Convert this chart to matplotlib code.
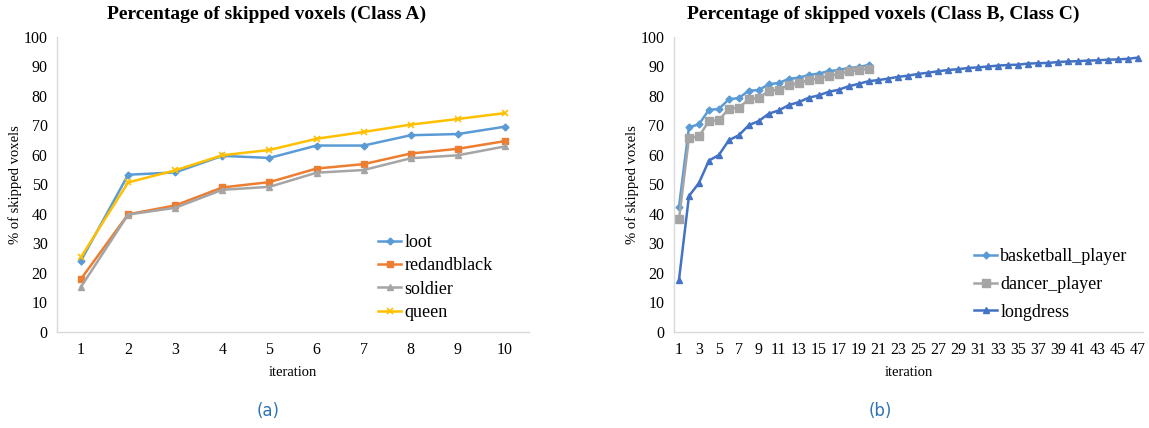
import numpy as np
import matplotlib.pyplot as plt

plt.rcParams['font.family'] = ['Liberation Serif', 'DejaVu Serif']

# Class A
iters_a = np.arange(1, 11)
loot = [24.2, 53.3, 54.1, 59.7, 59.0, 63.2, 63.2, 66.7, 67.1, 69.6]
redandblack = [18.0, 39.9, 42.9, 49.0, 50.8, 55.4, 56.9, 60.5, 62.1, 64.7]
soldier = [15.3, 39.8, 42.1, 48.2, 49.2, 54.0, 54.9, 58.9, 59.9, 62.9]
queen = [25.4, 50.7, 54.8, 59.9, 61.7, 65.5, 67.8, 70.3, 72.2, 74.2]

# Class B, Class C
iters_b = np.arange(1, 21)
iters_c = np.arange(1, 48)
basketball_player = [42.5, 69.4, 70.4, 75.3, 75.6, 78.9, 79.3, 81.8, 82.0, 84.0,
                     84.4, 85.8, 86.2, 87.1, 87.6, 88.4, 88.8, 89.5, 89.8, 90.5]
dancer_player = [38.2, 65.8, 66.3, 71.5, 71.8, 75.7, 76.0, 78.9, 79.4, 81.7,
                 82.1, 83.7, 84.3, 85.4, 85.9, 86.9, 87.3, 88.4, 88.7, 89.3]
longdress = [17.7, 46.1, 50.5, 58.1, 60.0, 65.0, 66.7, 70.1, 71.5, 74.0,
             75.1, 76.9, 77.9, 79.4, 80.2, 81.4, 82.1, 83.3, 84.1, 85.0,
             85.4, 85.9, 86.5, 86.9, 87.5, 87.9, 88.4, 88.8, 89.1, 89.5,
             89.7, 90.0, 90.3, 90.5, 90.6, 91.0, 91.1, 91.2, 91.5, 91.7,
             91.8, 92.0, 92.1, 92.3, 92.4, 92.6, 93.0]

fig = plt.figure(figsize=(11.49, 4.28), dpi=100)
ax1 = fig.add_axes([0.050, 0.2243, 0.410, 0.6893])
ax2 = fig.add_axes([0.5866, 0.2243, 0.408, 0.6893])


def style(ax):
    for s in ['top', 'right']:
        ax.spines[s].set_visible(False)
    for s in ['left', 'bottom']:
        ax.spines[s].set_color('#d9d9d9')
        ax.spines[s].set_linewidth(1.0)
    ax.tick_params(length=0, labelsize=11.5, pad=7)
    ax.set_ylim(0, 100)
    ax.set_yticks(np.arange(0, 101, 10))
    ax.set_ylabel('% of skipped voxels', fontsize=10.5, labelpad=1)
    ax.set_xlabel('iteration', fontsize=10.5, labelpad=6)


ax1.plot(iters_a, loot, color='#5B9BD5', marker='D', ms=3.5, lw=1.8, label='loot')
ax1.plot(iters_a, redandblack, color='#ED7D31', marker='s', ms=5, lw=1.8, label='redandblack')
ax1.plot(iters_a, soldier, color='#A5A5A5', marker='^', ms=5, lw=1.8, label='soldier')
ax1.plot(iters_a, queen, color='#FFC000', marker='x', ms=5, mew=1.2, lw=1.8, label='queen')
style(ax1)
ax1.set_xlim(0.5, 10.5)
ax1.set_xticks(iters_a)
ax1.legend(loc='upper left', bbox_to_anchor=(378 / 1149, 1 - 234 / 428),
           bbox_transform=fig.transFigure, frameon=False, fontsize=13,
           handlelength=1.3, handletextpad=0.15, labelspacing=0.35,
           borderaxespad=0, borderpad=0)

ax2.plot(iters_b, basketball_player, color='#5B9BD5', marker='D', ms=3.5, lw=1.8,
         label='basketball_player')
ax2.plot(iters_b, dancer_player, color='#A5A5A5', marker='s', ms=5.5, lw=1.8,
         label='dancer_player')
ax2.plot(iters_c, longdress, color='#4472C4', marker='^', ms=5, lw=1.8, label='longdress')
style(ax2)
ax2.set_xlim(0.5, 47.5)
ax2.set_xticks(iters_c[::2])
ax2.legend(loc='upper left', bbox_to_anchor=(974 / 1149, 1 - 248 / 428),
           bbox_transform=fig.transFigure, frameon=False, fontsize=13,
           handlelength=1.3, handletextpad=0.15, labelspacing=0.6,
           borderaxespad=0, borderpad=0)

fig.text(267 / 1149, 1 - 14 / 428, 'Percentage of skipped voxels (Class A)',
         ha='center', va='center', fontsize=14, fontweight='bold')
fig.text(883 / 1149, 1 - 14 / 428, 'Percentage of skipped voxels (Class B, Class C)',
         ha='center', va='center', fontsize=14, fontweight='bold')

fig.text(268 / 1149, 1 - 411 / 428, '(a)', ha='center', va='center',
         fontsize=12, color='#2E75B6', family='DejaVu Sans')
fig.text(880 / 1149, 1 - 411 / 428, '(b)', ha='center', va='center',
         fontsize=12, color='#2E75B6', family='DejaVu Sans')

fig.savefig('out.png', dpi=100)
